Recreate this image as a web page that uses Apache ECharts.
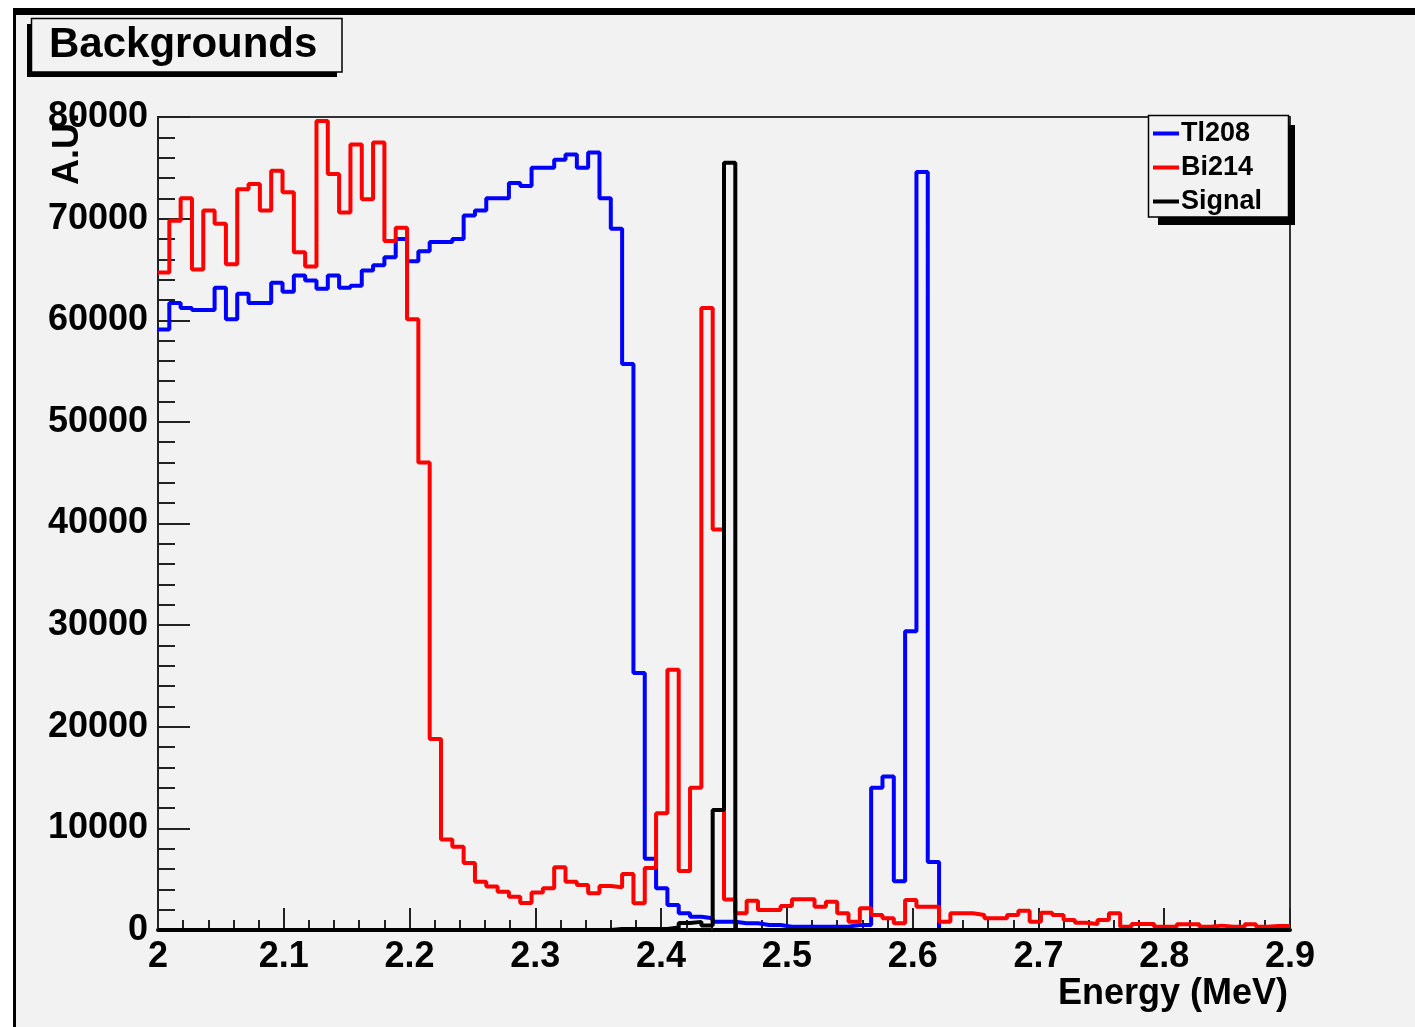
<!DOCTYPE html>
<html><head><meta charset="utf-8">
<script src="https://cdn.jsdelivr.net/npm/echarts@6/dist/echarts.min.js"></script>
<style>
html,body{margin:0;padding:0;background:#fff;}
#bg{position:absolute;left:13px;top:8px;width:1402px;height:1019px;box-sizing:border-box;border-top:7px solid #000;border-left:3px solid #000;background:#f2f2f2;}
#c{position:absolute;left:0;top:0;width:1415px;height:1027px;}
</style>
</head><body><div id="bg"></div><div id="c"></div>
<script>
// ---- data ----
const seriesNames = ['Tl208', 'Bi214', 'Signal'];
const binStart = 2.0;
const binWidth = 0.009;
const tl208 = [
  59100, 61700, 61200, 61000, 61000, 63200, 60100, 62600, 61700, 61700,
  63700, 62800, 64400, 63900, 63100, 64400, 63200, 63400, 64900, 65400,
  66200, 68000, 65800, 66800, 67700, 67700, 68000, 70300, 70800, 72000,
  72000, 73500, 73200, 75000, 75000, 75800, 76300, 75000, 76500, 72000,
  69000, 55700, 25300, 7000, 4100, 2460, 1640, 1310, 1150, 820,
  820, 660, 660, 490, 490, 330, 330, 330, 330, 330,
  330, 500, 500, 14000, 15100, 4800, 29400, 74600, 6700, 0,
  0, 0, 0, 0, 0, 0, 0, 0, 0, 0,
  0, 0, 0, 0, 0, 0, 0, 0, 0, 0,
  0, 0, 0, 0, 0, 0, 0, 0, 0, 0
];
const bi214 = [
  64700, 69800, 72000, 65000, 70800, 69500, 65500, 72900, 73400, 70800,
  74700, 72600, 66700, 65300, 79600, 74400, 70600, 77300, 71900, 77500,
  67800, 69100, 60100, 46000, 18800, 8900, 8200, 6600, 4760, 4270,
  3770, 3280, 2650, 3700, 4100, 6180, 4760, 4430, 3610, 4330,
  4200, 5520, 2620, 6100, 11500, 25600, 5800, 14000, 61200, 39400,
  3000, 1640, 2890, 1970, 1970, 2360, 3020, 3020, 2300, 2790,
  1640, 820, 2140, 1480, 1150, 660, 2960, 2300, 2300, 820,
  1640, 1640, 1480, 1150, 1150, 1480, 1900, 820, 1700, 1480,
  990, 720, 590, 990, 1640, 330, 590, 590, 330, 330,
  560, 560, 330, 430, 330, 330, 560, 330, 400, 400
];
const signal = [
  0, 0, 0, 0, 0, 0, 0, 0, 0, 0,
  0, 0, 0, 0, 0, 0, 0, 0, 0, 0,
  0, 0, 0, 0, 0, 0, 0, 0, 0, 0,
  0, 0, 0, 0, 0, 0, 0, 0, 0, 0,
  100, 100, 100, 100, 100, 250, 700, 800, 450, 11800,
  75500, 0, 0, 0, 0, 0, 0, 0, 0, 0,
  0, 0, 0, 0, 0, 0, 0, 0, 0, 0,
  0, 0, 0, 0, 0, 0, 0, 0, 0, 0,
  0, 0, 0, 0, 0, 0, 0, 0, 0, 0,
  0, 0, 0, 0, 0, 0, 0, 0, 0, 0
];
const xTickLabels = ['2', '2.1', '2.2', '2.3', '2.4', '2.5', '2.6', '2.7', '2.8', '2.9'];
const yTickLabels = ['0', '10000', '20000', '30000', '40000', '50000', '60000', '70000', '80000'];
const seriesColors = ['#0000ff', '#ff0000', '#000000'];

// ---- build ----
function toSteps(vals) {
  const pts = vals.map((v, i) => [Number((binStart + i * binWidth).toFixed(4)), v]);
  pts.push([Number((binStart + vals.length * binWidth).toFixed(4)), vals[vals.length - 1]]);
  return pts;
}
const FONT = '"Liberation Sans", Arial, Helvetica, sans-serif';
const allVals = [tl208, bi214, signal];
const chart = echarts.init(document.getElementById('c'), null, {renderer: 'canvas'});
chart.setOption({
  animation: false,
  backgroundColor: 'transparent',
  grid: {left: 158, right: 125, top: 117, bottom: 97, show: true, borderColor: '#333', borderWidth: 2, backgroundColor: 'transparent'},
  xAxis: {
    type: 'value', min: 2, max: 2.9, interval: 0.1,
    axisLine: {show: true, lineStyle: {color: '#000', width: 4}},
    axisTick: {show: true, inside: true, length: 22, lineStyle: {color: '#222', width: 2}},
    minorTick: {show: true, splitNumber: 5, length: 10, lineStyle: {color: '#222', width: 2}},
    splitLine: {show: false},
    axisLabel: {margin: 9, fontSize: 36, fontWeight: 'bold', color: '#000', fontFamily: FONT,
      formatter: (v, i) => xTickLabels[i]}
  },
  yAxis: {
    type: 'value', min: 0, max: 80000, interval: 10000,
    axisLine: {show: true, lineStyle: {color: '#222', width: 2}},
    axisTick: {show: true, inside: true, length: 32, lineStyle: {color: '#222', width: 2}},
    minorTick: {show: true, splitNumber: 5, length: 17, lineStyle: {color: '#222', width: 2}},
    splitLine: {show: false},
    axisLabel: {margin: 10, fontSize: 36, fontWeight: 'bold', color: '#000', fontFamily: FONT,
      formatter: (v, i) => yTickLabels[i]}
  },
  legend: {
    data: seriesNames, orient: 'vertical', left: 1153, top: 120, padding: 0,
    itemWidth: 26, itemHeight: 4, icon: 'rect', itemGap: 7, z: 20,
    textStyle: {fontSize: 27, fontWeight: 'bold', color: '#000', lineHeight: 26, fontFamily: FONT, padding: [0, 0, 0, -3]}
  },
  series: seriesNames.map((n, k) => ({
    name: n, type: 'line', step: 'end', showSymbol: false, symbol: 'none',
    data: toSteps(allVals[k]),
    itemStyle: {color: seriesColors[k]},
    lineStyle: {color: seriesColors[k], width: 4}
  })),
  graphic: [
    {type: 'rect', z: 10, shape: {x: 27, y: 24, width: 310, height: 53}, style: {fill: '#000'}},
    {type: 'rect', z: 11, shape: {x: 31.5, y: 18.5, width: 310.5, height: 53.5}, style: {fill: '#f2f2f2', stroke: '#000', lineWidth: 1.5}},
    {type: 'text', z: 12, x: 49, y: 45, style: {text: 'Backgrounds', font: 'bold 42px ' + FONT, fill: '#000', textAlign: 'left', textVerticalAlign: 'middle'}},
    {type: 'rect', z: 10, shape: {x: 1158, y: 125, width: 137, height: 100}, style: {fill: '#000'}},
    {type: 'rect', z: 11, shape: {x: 1148.5, y: 115.5, width: 140, height: 101.5}, style: {fill: '#f2f2f2', stroke: '#000', lineWidth: 1.5}},
    {type: 'text', z: 12, x: 1288, y: 994, style: {text: 'Energy (MeV)', font: 'bold 36px ' + FONT, fill: '#000', textAlign: 'right', textVerticalAlign: 'middle'}},
    {type: 'text', z: 12, x: 68, y: 113, rotation: Math.PI / 2, style: {text: 'A.U.', font: 'bold 36px ' + FONT, fill: '#000', textAlign: 'right', textVerticalAlign: 'middle'}}
  ]
});
</script>
</body></html>
